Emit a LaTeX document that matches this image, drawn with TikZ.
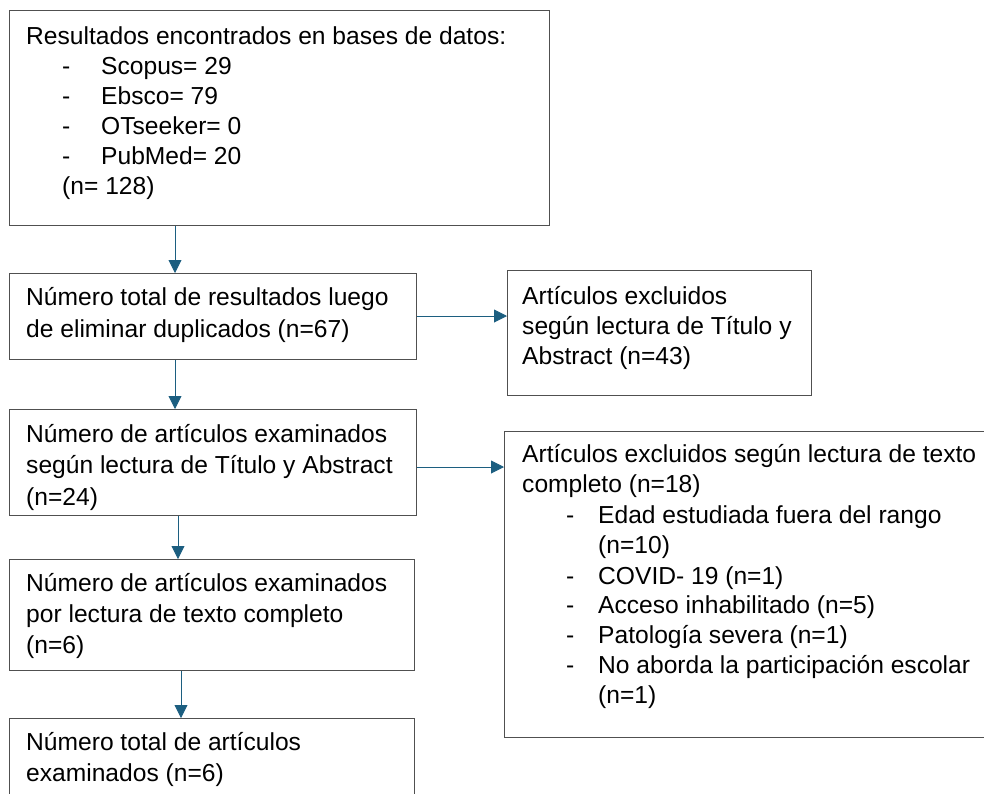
\documentclass[tikz,border=0pt]{standalone}
\usepackage{fontspec}
\setmainfont{Liberation Sans}
\usetikzlibrary{arrows.meta}
\definecolor{boxline}{RGB}{80,80,80}
\definecolor{arrowblue}{RGB}{28,94,128}
\begin{document}
\begin{tikzpicture}[x=1pt,y=-1pt,
  box/.style={draw=boxline, line width=0.9pt, rectangle, inner sep=0pt, anchor=north west},
  txt/.style={anchor=base west, inner sep=0pt, font=\fontsize{24.6}{30}\selectfont},
  arr/.style={draw=arrowblue, line width=0.9pt, -{Triangle[length=13pt,width=13pt]}}]
\useasboundingbox (0,0) rectangle (984,793);
\clip (0,0) rectangle (984,793);
% boxes
\node[box, minimum width=540pt, minimum height=215pt] (b1) at (9,10) {};
\node[box, minimum width=407pt, minimum height=86pt] (b2) at (9,273) {};
\node[box, minimum width=304pt, minimum height=125pt] (b3) at (507,270) {};
\node[box, minimum width=407pt, minimum height=106pt] (b4) at (9,409) {};
\node[box, minimum width=500pt, minimum height=306pt] (b5) at (504,431) {};
\node[box, minimum width=405pt, minimum height=111pt] (b6) at (9,559) {};
\node[box, minimum width=405pt, minimum height=100pt] (b7) at (9,718) {};
% box 1 text
\node[txt] (t1a) at (26,44) {Resultados encontrados en bases de datos:};
\foreach \t [count=\i] in {Scopus= 29, Ebsco= 79, OTseeker= 0, PubMed= 20}{
  \node[txt] (d1\i) at (62,44+30*\i) {-};
  \node[txt] (i1\i) at (101,44+30*\i) {\t};
}
\node[txt] (t1b) at (62,194) {(n= 128)};
% box 2 text
\node[txt] (t2a) at (26,305) {Número total de resultados luego};
\node[txt] (t2b) at (26,337) {de eliminar duplicados (n=67)};
% box 3 text
\node[txt] (t3a) at (522,304) {Artículos excluidos};
\node[txt] (t3b) at (522,334) {según lectura de Título y};
\node[txt] (t3c) at (522,364) {Abstract (n=43)};
% box 4 text
\node[txt] (t4a) at (26,442) {Número de artículos examinados};
\node[txt] (t4b) at (26,473) {según lectura de Título y Abstract};
\node[txt] (t4c) at (26,505) {(n=24)};
% box 5 text
\node[txt] (t5a) at (522,462) {Artículos excluidos según lectura de texto};
\node[txt] (t5b) at (522,492) {completo (n=18)};
\node[txt] (d51) at (566,523) {-};
\node[txt] (i51) at (598,523) {Edad estudiada fuera del rango};
\node[txt] (i51b) at (598,553) {(n=10)};
\node[txt] (d52) at (566,584) {-};
\node[txt] (i52) at (598,584) {COVID- 19 (n=1)};
\node[txt] (d53) at (566,613) {-};
\node[txt] (i53) at (598,613) {Acceso inhabilitado (n=5)};
\node[txt] (d54) at (566,643) {-};
\node[txt] (i54) at (598,643) {Patología severa (n=1)};
\node[txt] (d55) at (566,673) {-};
\node[txt] (i55) at (598,673) {No aborda la participación escolar};
\node[txt] (i55b) at (598,703) {(n=1)};
% box 6 text
\node[txt] (t6a) at (26,591) {Número de artículos examinados};
\node[txt] (t6b) at (26,622) {por lectura de texto completo};
\node[txt] (t6c) at (26,653) {(n=6)};
% box 7 text
\node[txt] (t7a) at (26,750) {Número total de artículos};
\node[txt] (t7b) at (26,781) {examinados (n=6)};
% connectors
\coordinate (x1) at (175,0);
\coordinate (x2) at (178,0);
\coordinate (x3) at (181,0);
\coordinate (y2) at (0,316);
\coordinate (y4) at (0,467);
\draw[arr] (b1.south -| x1) -- (b2.north -| x1);
\draw[arr] (b2.east |- y2) -- (b3.west |- y2);
\draw[arr] (b2.south -| x1) -- (b4.north -| x1);
\draw[arr] (b4.east |- y4) -- (b5.west |- y4);
\draw[arr] (b4.south -| x2) -- (b6.north -| x2);
\draw[arr] (b6.south -| x3) -- (b7.north -| x3);
\end{tikzpicture}
\end{document}
